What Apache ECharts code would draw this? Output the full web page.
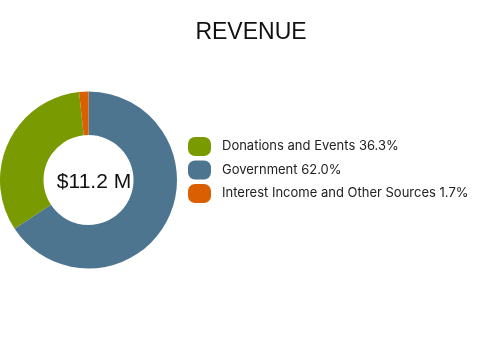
<!DOCTYPE html>
<html>
<head>
<meta charset="utf-8">
<script src="https://cdn.jsdelivr.net/npm/echarts@6/dist/echarts.min.js"></script>
<style>html,body{margin:0;padding:0;background:#fff}#c{width:500px;height:360px}</style>
</head>
<body>
<div id="c"></div>
<script>
const titleText = 'REVENUE';
const centerText = '$11.2 M';
const categories = ['Donations and Events', 'Government', 'Interest Income and Other Sources'];
const shareLabels = ['36.3%', '62.0%', '1.7%'];
const values = [32.6, 65.7, 1.7];
const colors = ['#7a9a01', '#4d7590', '#d95f02'];

const chart = echarts.init(document.getElementById('c'), null, {renderer: 'canvas'});
const labelMap = {};
categories.forEach((c, i) => labelMap[c] = c + ' ' + shareLabels[i]);

chart.setOption({
  animation: false,
  color: colors,
  title: [{
    text: titleText,
    left: 246, top: 16, textAlign: 'center',
    textStyle: {fontFamily: 'Liberation Sans', fontSize: 23, fontWeight: 'normal', color: '#111'}
  }, {
    text: centerText,
    left: 89, top: 167, textAlign: 'center',
    textStyle: {fontFamily: 'Liberation Sans', fontSize: 21, fontWeight: 'normal', color: '#111'}
  }],
  legend: {
    orient: 'vertical',
    left: 188, top: 137, padding: 0,
    itemWidth: 23, itemHeight: 19, itemGap: 4.5,
    icon: 'path://M7,0 H16 A7,7 0 0 1 23,7 V12 A7,7 0 0 1 16,19 H7 A7,7 0 0 1 0,12 V7 A7,7 0 0 1 7,0 Z',
    data: categories,
    formatter: n => labelMap[n],
    textStyle: {fontFamily: 'Inter', fontSize: 13, color: '#222', padding: [0, 0, 0, 6]}
  },
  series: [{
    type: 'pie',
    center: [88.5, 180],
    radius: [45, 88.5],
    clockwise: false,
    startAngle: 96.1,
    label: {show: false},
    labelLine: {show: false},
    emphasis: {disabled: true},
    itemStyle: {borderWidth: 0},
    data: categories.map((c, i) => ({name: c, value: values[i]}))
  }]
});
</script>
</body>
</html>
